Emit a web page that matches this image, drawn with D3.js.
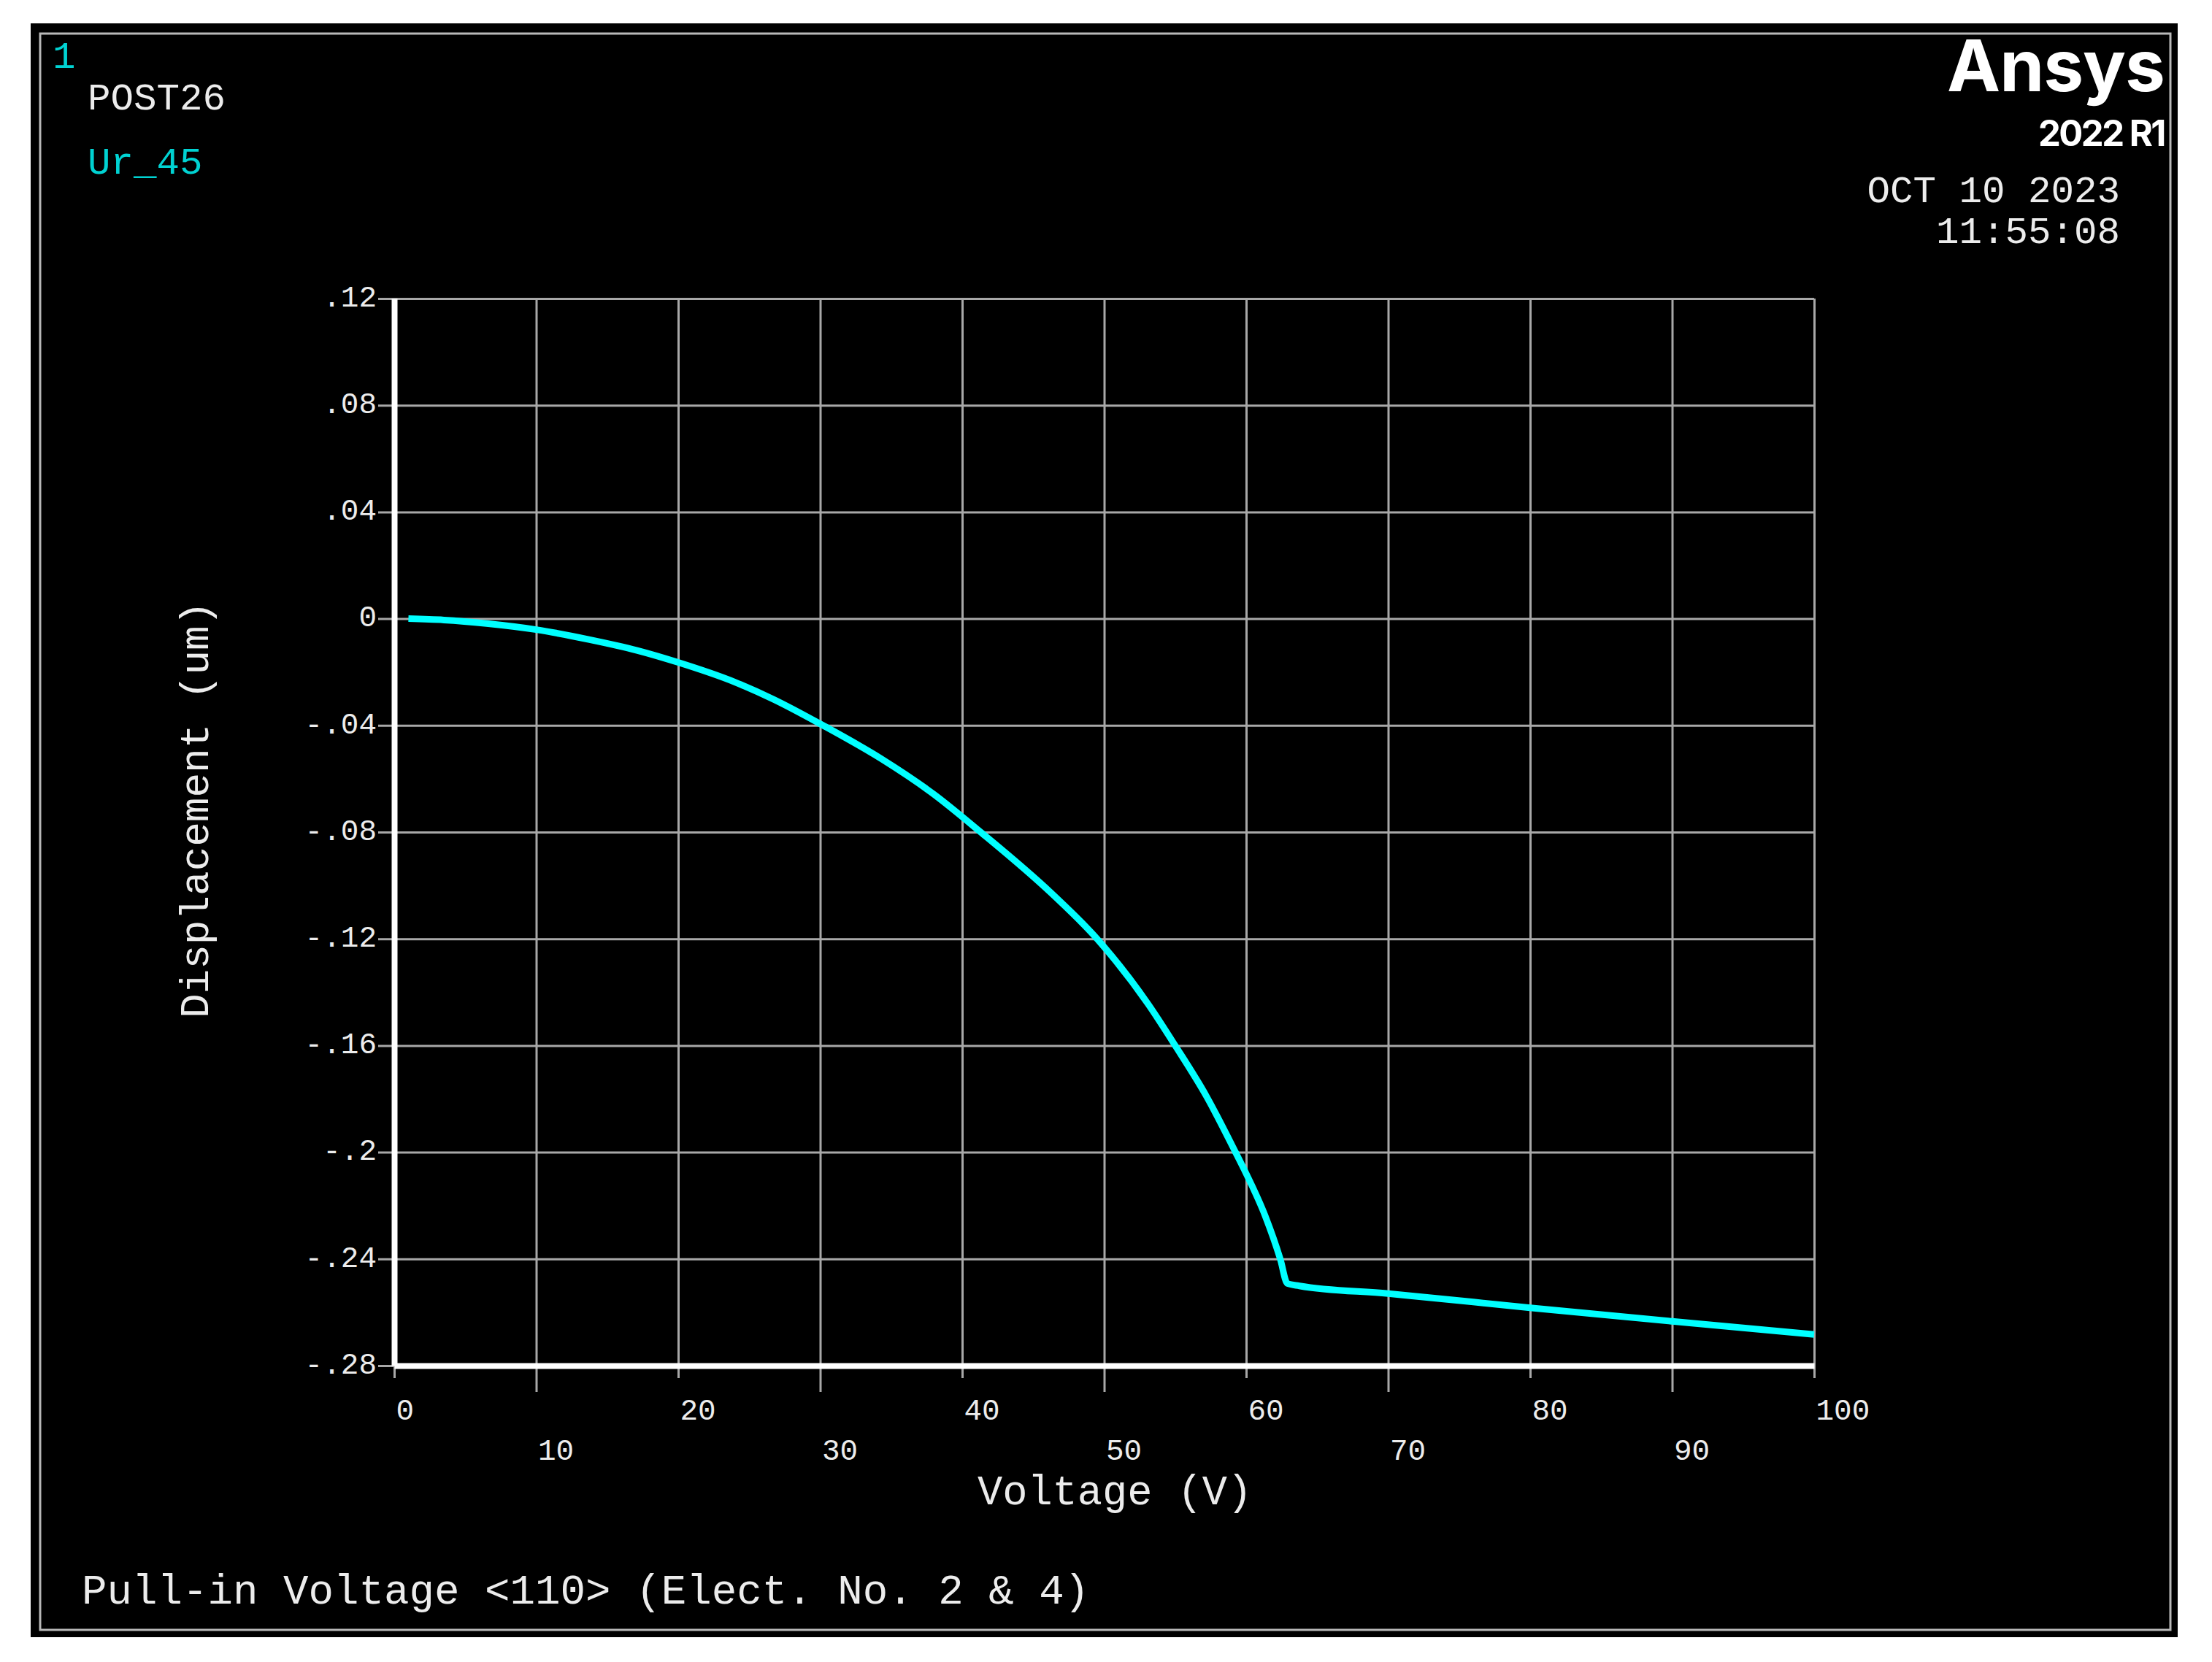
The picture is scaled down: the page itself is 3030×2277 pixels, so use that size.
<!DOCTYPE html>
<html>
<head>
<meta charset="utf-8">
<script src="https://cdn.jsdelivr.net/npm/d3@7"></script>
<style>
  html, body { margin: 0; padding: 0; background: #ffffff; }
  svg { display: block; }
</style>
</head>
<body>
<script>
// ---- Data ----
const voltage = [1, 3.5, 6.5, 10, 13.7, 17.1, 20, 24, 26.7, 30.2, 34.3, 38, 41.3, 46.3, 49.5,
                 53.1, 55, 57.2, 59.25, 60, 61.35, 62.4, 62.9, 63.75, 70, 80, 90, 100];
const displacement = [0, -0.0005, -0.0018, -0.0041, -0.0078, -0.0119, -0.0164, -0.0238, -0.0302,
                      -0.04, -0.0525, -0.0658, -0.08, -0.103, -0.12, -0.1445, -0.16, -0.179,
                      -0.2, -0.208, -0.224, -0.24, -0.2492, -0.2501, -0.253, -0.2583, -0.2634,
                      -0.2683];

const xTicks = [0, 10, 20, 30, 40, 50, 60, 70, 80, 90, 100];
const xTickLabels = ["0", "10", "20", "30", "40", "50", "60", "70", "80", "90", "100"];
const yTicks = [0.12, 0.08, 0.04, 0, -0.04, -0.08, -0.12, -0.16, -0.2, -0.24, -0.28];
const yTickLabels = [".12", ".08", ".04", "0", "-.04", "-.08", "-.12", "-.16", "-.2", "-.24", "-.28"];

const xTitle = "Voltage (V)";
const yTitle = "Displacement (um)";
const windowNumber = "1";
const header = "POST26";
const seriesName = "Ur_45";
const plotTitle = "Pull-in Voltage <110> (Elect. No. 2 & 4)";
const dateLabel = "OCT 10 2023";
const timeLabel = "11:55:08";
const brand = "Ansys";
const release = "2022 R1";

// ---- Layout ----
const W = 3030, H = 2277;
const mono = "'Liberation Mono', 'DejaVu Sans Mono', monospace";
const textColor = "#ececec";
const cyanText = "#00d2d2";
const curveColor = "#00ffff";
const gridColor = "#a8a8a8";

const svg = d3.select("body").append("svg").attr("width", W).attr("height", H);

// panel
svg.append("rect").attr("x", 42).attr("y", 32).attr("width", 2983 - 42).attr("height", 2243 - 32).attr("fill", "#000");
svg.append("rect").attr("x", 55).attr("y", 46).attr("width", 2973 - 55).attr("height", 2233 - 46)
  .attr("fill", "none").attr("stroke", "#b8b8b8").attr("stroke-width", 3);

const x = d3.scaleLinear().domain([0, 100]).range([540, 2485]);
const y = d3.scaleLinear().domain([-0.28, 0.12]).range([1871, 409]);

const plotW = x.range()[1] - x.range()[0];
const plotH = y.range()[0] - y.range()[1];

// Y axis (grid + labels)
const gY = svg.append("g").attr("transform", `translate(${x(0)},0)`)
  .call(d3.axisLeft(y).tickValues(yTicks).tickFormat((d, i) => yTickLabels[i])
        .tickSizeInner(0).tickSizeOuter(0).tickPadding(24));
gY.selectAll(".tick line").attr("x1", -22).attr("x2", plotW)
  .attr("stroke", gridColor).attr("stroke-width", 3);
gY.selectAll(".tick text").attr("fill", textColor).attr("font-family", mono)
  .attr("font-size", 41).attr("dy", "0.25em");

// X axis (grid + labels in two staggered rows)
const gX = svg.append("g").attr("transform", `translate(0,${y(-0.28)})`)
  .call(d3.axisBottom(x).tickValues(xTicks).tickFormat((d, i) => xTickLabels[i])
        .tickSizeInner(0).tickSizeOuter(0));
gX.selectAll(".tick line").attr("y1", -plotH)
  .attr("y2", (d, i) => (i % 2 === 0 ? 17 : 36))
  .attr("stroke", gridColor).attr("stroke-width", 3);
gX.selectAll(".tick text").attr("fill", textColor).attr("font-family", mono)
  .attr("font-size", 41).attr("text-anchor", "start").attr("x", 2).attr("dy", null)
  .attr("y", (d, i) => (i % 2 === 0 ? 74 : 129));
gY.attr("font-size", null).attr("font-family", null);
gX.attr("font-size", null).attr("font-family", null);

// curve
const pts = voltage.map((v, i) => [v, displacement[i]]);
svg.append("path").datum(pts)
  .attr("fill", "none").attr("stroke", curveColor).attr("stroke-width", 9)
  .attr("stroke-linejoin", "miter")
  .attr("d", d3.line().x(d => x(d[0])).y(d => y(d[1])).curve(d3.curveMonotoneX));

// axis lines on top of everything in the plot
const axesTop = svg.append("g");
[gY, gX].forEach(g => {
  const dom = g.select(".domain").attr("stroke", "#ffffff").attr("stroke-width", 8);
  const node = dom.remove().node();
  axesTop.append("g").attr("transform", g.attr("transform")).node().appendChild(node);
});

// texts
function txt(s, px, py, size, color, anchor) {
  return svg.append("text").attr("x", px).attr("y", py).attr("font-family", mono)
    .attr("font-size", size).attr("fill", color).attr("text-anchor", anchor || "start")
    .attr("xml:space", "preserve").text(s);
}
txt(windowNumber, 72, 93, 52.5, cyanText);
txt(header, 120, 150, 52.5, textColor);
txt(seriesName, 120, 238, 52.5, cyanText);
txt(dateLabel, 2904, 277, 52.5, textColor, "end");
txt(timeLabel, 2904, 333, 52.5, textColor, "end");
txt(xTitle, 1339, 2061, 57, textColor);
txt(plotTitle, 112, 2197, 57.5, textColor);
svg.append("text").attr("transform", "translate(285,1395) rotate(-90)")
  .attr("font-family", mono).attr("font-size", 56).attr("fill", textColor).text(yTitle);

// brand
const brandFont = "Inter, Roboto, sans-serif";
svg.append("text").attr("x", 2965).attr("y", 125).attr("text-anchor", "end")
  .attr("font-family", brandFont).attr("font-weight", 700)
  .attr("font-size", 98).attr("fill", "#ffffff").attr("letter-spacing", -1).text(brand);
svg.append("text").attr("x", 2965).attr("y", 200).attr("text-anchor", "end")
  .attr("font-family", brandFont).attr("font-weight", 700)
  .attr("font-size", 49).attr("fill", "#ffffff").attr("letter-spacing", -2.5).text(release);
</script>
</body>
</html>
